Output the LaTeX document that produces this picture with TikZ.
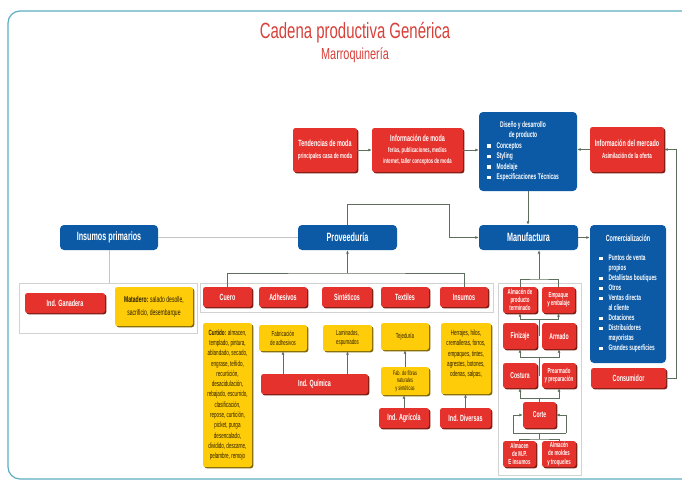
\documentclass[tikz,border=0pt]{standalone}
\usepackage{fontspec}
\setmainfont[FakeStretch=0.6]{Liberation Sans}
\newfontfamily\titlefont[FakeStretch=0.68]{Liberation Sans}
\usetikzlibrary{arrows.meta,shadows}
\definecolor{cred}{HTML}{E5322D}
\definecolor{redsh}{HTML}{7A1E14}
\definecolor{cyel}{HTML}{FFCC0A}
\definecolor{yelsh}{HTML}{7A6508}
\definecolor{ytext}{HTML}{2A1E00}
\definecolor{cblue}{HTML}{0C5AA6}
\definecolor{cline}{HTML}{5E6E5C}
\definecolor{pgray}{HTML}{D2D2D2}
\definecolor{lgray}{HTML}{C4C4C4}
\definecolor{cframe}{HTML}{5AAFC0}
\definecolor{ctitle}{HTML}{D8403A}
\newcommand{\bsq}{\rule[0.6pt]{3.4pt}{3.4pt}}
\newcommand{\smlt}{\fontsize{7}{9}\selectfont}
\tikzset{
  wh/.style 2 args={minimum width=#1, minimum height=#2},
  box/.style={rectangle, rounded corners=2.5pt, align=center, inner sep=1pt,
    font=\fontsize{9}{11}\selectfont\bfseries},
  redbox/.style={box, fill=cred, text=white,
    drop shadow={shadow xshift=1.3pt, shadow yshift=-1.3pt, fill=redsh, opacity=1}},
  mredbox/.style={redbox, font=\fontsize{7.3}{8.2}\selectfont\bfseries},
  mword/.style={font=\fontsize{8.5}{9}\selectfont\bfseries},
  yelbox/.style={box, fill=cyel, text=ytext,
    font=\fontsize{7.6}{10.3}\selectfont\mdseries,
    drop shadow={shadow xshift=1.3pt, shadow yshift=-1.3pt, fill=yelsh, opacity=1}},
  bluebox/.style={box, fill=cblue, text=white, rounded corners=4pt},
  bigf/.style={font=\fontsize{12}{13}\selectfont\bfseries},
  panel/.style={rectangle, draw=pgray, line width=0.7pt, inner sep=0pt},
  conn/.style={draw=cline, line width=0.8pt},
  lgline/.style={draw=lgray, line width=0.8pt},
  arr/.style={conn, -{Latex[length=3.5pt,width=3pt]}},
}
\begin{document}
\begin{tikzpicture}[x=1pt, y=-1pt]
\useasboundingbox (0,0) rectangle (682,482);
\fill[white] (0,0) rectangle (682,482);
\draw[cframe, line width=1.2pt, rounded corners=12pt] (8,11) rectangle (700,479);

% title
\node[font=\titlefont\fontsize{22}{24}\selectfont, text=ctitle] (title) at (355,33) {Cadena productiva Genérica};
\node[font=\titlefont\fontsize{16}{18}\selectfont, text=ctitle] (sub) at (355,55) {Marroquinería};

% panels
\node[panel, wh={178}{50}] (pleft) at (108,308) {};
\node[panel, wh={293}{29}] (pmid) at (346.5,297.5) {};
\node[panel, wh={83}{192}] (pman) at (539.5,379) {};

% top row
\node[redbox, wh={64}{44}] (tend) at (325,150) {Tendencias de moda\\[1pt]\fontsize{7.4}{9}\selectfont principales casa de moda};
\node[redbox, wh={91}{44}] (infomoda) at (417.5,150) {Información de moda\\\smlt ferias, publicaciones, medios\\\smlt internet, taller conceptos de moda};
\node[bluebox, wh={98}{79}, font=\fontsize{8.2}{10.4}\selectfont\bfseries] (diseno) at (528,151.5) {\begin{tabular}{@{}l@{\hspace{6pt}}l@{}}
\multicolumn{2}{c}{Diseño y desarrollo}\\
\multicolumn{2}{c}{de producto}\\
\bsq & Conceptos\\
\bsq & Styling\\
\bsq & Modelaje\\
\bsq & Especificaciones Técnicas
\end{tabular}\hspace*{10pt}};
\node[redbox, wh={74}{45}] (infomerc) at (627,149.5) {Información del mercado\\[1pt]\fontsize{7.4}{9}\selectfont Asimilación de la oferta};

% middle row
\node[bluebox, wh={98}{25}, bigf] (insprim) at (109,237.5) {Insumos primarios};
\node[bluebox, wh={99}{25}, bigf] (prov) at (347.5,237.5) {Proveeduría};
\node[bluebox, wh={99}{25}, bigf] (manu) at (528.5,237.5) {Manufactura};
\node[bluebox, wh={76}{138}, font=\fontsize{8}{10}\selectfont\bfseries] (comer) at (628,294) {\begin{tabular}{@{}l@{\hspace{6pt}}l@{}}
\multicolumn{2}{c}{\fontsize{9}{10}\selectfont Comercialización}\\[9pt]
\bsq & Puntos de venta\\
 & propios\\
\bsq & Detallistas boutiques\\
\bsq & Otros\\
\bsq & Ventas directa\\
 & al cliente\\
\bsq & Dotaciones\\
\bsq & Distribuidores\\
 & mayoristas\\
\bsq & Grandes superficies
\end{tabular}};
\node[redbox, wh={75}{20}] (consum) at (628.5,378) {Consumidor};

% left panel
\node[redbox, wh={80}{20}] (ganad) at (65,303) {Ind. Ganadera};
\node[yelbox, wh={78}{39}, font=\fontsize{8.4}{13}\selectfont\mdseries] (matad) at (154,306.5) {\textbf{Matadero:} salado desolle,\\sacrificio, desembarque};

% proveeduria row
\node[redbox, wh={49}{20}] (cuero) at (227.5,297) {Cuero};
\node[redbox, wh={48}{20}] (adhes) at (283,297) {Adhesivos};
\node[redbox, wh={50}{20}] (sint) at (347,297) {Sintéticos};
\node[redbox, wh={48}{20}] (texti) at (405,297) {Textiles};
\node[redbox, wh={48}{20}] (insum) at (464,297) {Insumos};

% yellow
\node[yelbox, wh={49}{144}] (curt) at (227.5,395) {\textbf{Curtido:} almacen,\\templado, pintura,\\ablandado, secado,\\engrase, teñido,\\recurtición,\\desacidulación,\\rebajado, escurrido,\\clasificación,\\repose, curtición,\\picket, purga\\desencalado,\\dividido, descarne,\\pelambre, remojo};
\node[yelbox, wh={48}{26}, font=\fontsize{7.3}{9}\selectfont] (fabadh) at (283,338) {Fabricación\\de adhesivos};
\node[yelbox, wh={49}{26}, font=\fontsize{7.3}{9}\selectfont] (lamin) at (347.5,338) {Laminados,\\espumados};
\node[yelbox, wh={48}{27}, font=\fontsize{7.3}{9}\selectfont] (tejed) at (405,336.5) {Tejeduría};
\node[yelbox, wh={50}{71}] (herr) at (466,358.5) {Herrajes, hilos,\\cremalleras, forros,\\empaques, tintes,\\agrestes, botones,\\odenas, salpas,\\\mbox{}};
\node[redbox, wh={107}{20}] (quim) at (314.5,384) {Ind. Química};
\node[yelbox, wh={48}{28}, font=\fontsize{6.5}{7.6}\selectfont] (fibras) at (405,381) {Fab. de fibras\\naturales\\y sintéticas};
\node[redbox, wh={50}{20}] (agric) at (404,418) {Ind. Agrícola};
\node[redbox, wh={51}{20}] (divers) at (465.5,418) {Ind. Diversas};

% manufactura
\node[mredbox, wh={34}{26}] (almpt) at (520,300) {Almacén de\\producto\\terminado};
\node[mredbox, wh={33}{26}] (empaq) at (558.5,300) {Empaque\\y embalaje};
\node[mredbox, wh={34}{26}, mword] (finiz) at (520,336) {Finizaje};
\node[mredbox, wh={34}{26}, mword] (armad) at (559,336) {Armado};
\node[mredbox, wh={34}{25}, mword] (costu) at (520,375.5) {Costura};
\node[mredbox, wh={34}{25}] (prearm) at (559,375.5) {Prearmado\\y preparación};
\node[mredbox, wh={33}{26}, mword] (corte) at (539.5,415) {Corte};
\node[mredbox, wh={33}{26}] (almmp) at (519.5,454) {Almacen\\de M.P.\\E insumos};
\node[mredbox, wh={34}{26}] (almmold) at (559,454) {Almacén\\de moldes\\y troqueles};

% connectors top
\draw[arr] (tend) -- (infomoda);
\draw[arr] (infomoda.east) -- (infomoda.east -| diseno.west);
\draw[arr] (infomerc.west) -- (infomerc.west -| diseno.east);
\coordinate (rr) at (676,378);
\draw[arr] (consum.east) -- (rr) |- (infomerc.east);
\draw[arr] (diseno.south) -- (diseno.south |- manu.north);
\coordinate (pm) at (449,204);
\draw[arr] (prov.north) |- (pm) |- (manu.west);
\draw[lgline] (insprim) -- (prov);
\draw[lgline] (insprim.south) -- (insprim.south |- pleft.north);
\draw[arr] (manu.east) -- (manu.east -| comer.west);

% bracket under proveeduria
\coordinate (bp) at (347.5,273);
\draw[conn] (cuero.north) |- (bp) -| (insum.north);
\draw[arr] (bp) -- (prov.south);

% yellow arrows
\draw[arr] (quim.north -| fabadh) -- (fabadh.south);
\draw[arr] (quim.north -| lamin) -- (lamin.south);
\draw[arr] (fibras.north) -- (tejed.south);
\draw[arr] (agric.north) -- (agric.north |- fibras.south);
\draw[arr] (divers.north) -- (divers.north |- herr.south);

% manufactura connectors
\coordinate (mtop) at (539,279);
\draw[conn] (almpt.north) |- (mtop) -| (empaq.north);
\draw[arr] (mtop) -- (mtop |- manu.south);
\coordinate (r1) at (539.5,319);
\draw[arr] (r1) -| (almpt.south);
\draw[arr] (r1) -| (empaq.south);
\draw[conn] (r1) -- (r1 |- finiz);
\coordinate (r2) at (539.5,357);
\draw[arr] (r2) -| (finiz.south);
\draw[arr] (r2) -| (armad.south);
\draw[conn] (r2) -- (r2 |- costu);
\coordinate (r3) at (539.5,398);
\draw[conn] (corte.north) -- (r3);
\draw[arr] (r3) -| (costu.south);
\draw[arr] (r3) -| (prearm.south);
\coordinate (cl) at (513,433);
\coordinate (cr) at (566,433);
\draw[arr] (cl) |- (corte.west);
\draw[arr] (cr) |- (corte.east);
\draw[conn] (cl) -- (cr);
\coordinate (r4) at (539.5,433);
\coordinate (r5) at (539.5,439);
\draw[conn] (r4) -- (r5);
\draw[conn] (almmp.north) |- (r5) -| (almmold.north);
\end{tikzpicture}
\end{document}
